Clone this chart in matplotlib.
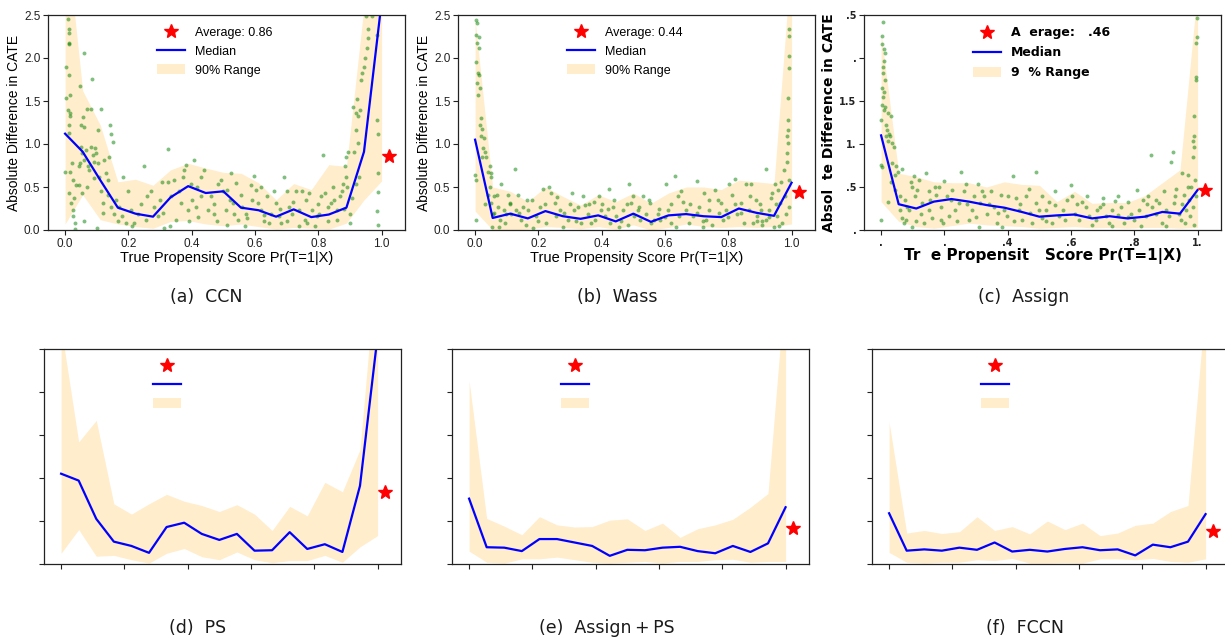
import numpy as np
import matplotlib.pyplot as plt
from matplotlib.patches import Patch

plt.rcParams['font.family'] = 'Liberation Sans'

# propensity score bins where median / 90% band are evaluated
bins = np.linspace(0, 1, 19)

# ---- (a) CCN ----
ccn_median = [1.12, 0.91, 0.58, 0.26, 0.19, 0.155, 0.38, 0.51, 0.43, 0.45,
              0.26, 0.23, 0.155, 0.24, 0.15, 0.18, 0.26, 0.91, 2.65]
ccn_low = [0.07, 0.41, 0.12, 0.07, 0.04, 0.02, 0.10, 0.11, 0.07, 0.05,
           0.07, 0.04, 0.01, 0.03, 0.02, 0.01, 0.08, 0.35, 0.57]
ccn_high = [3.55, 1.62, 1.22, 0.56, 0.59, 0.52, 0.70, 0.775, 0.72, 0.67,
            0.66, 0.55, 0.35, 0.54, 0.47, 0.76, 0.74, 2.6, 4.0]
ccn_avg = 0.86
ccn_points = [
    (0.008, 2.45), (0.011, 2.34), (0.011, 2.29), (0.011, 2.17), (0.013, 2.16), (0.002, 1.89),
    (0.013, 1.80), (0.002, 1.53), (0.015, 1.57), (0.008, 1.40), (0.015, 1.36), (0.015, 1.32),
    (0.011, 1.22), (0.013, 1.13), (0.0, 0.67), (0.017, 0.68), (0.011, 0.43), (0.019, 0.31),
    (0.025, 0.16), (0.032, 0.08), (0.032, 0.01), (0.025, 0.23), (0.021, 0.78), (0.025, 0.58),
    (0.029, 0.37), (0.036, 0.52), (0.044, 0.52), (0.052, 0.43), (0.059, 2.06), (0.048, 1.68),
    (0.046, 0.78), (0.05, 1.22), (0.059, 1.20), (0.05, 0.97), (0.059, 0.81), (0.044, 0.74),
    (0.052, 0.89), (0.067, 0.93), (0.069, 1.41), (0.082, 1.41), (0.084, 1.76), (0.056, 1.31),
    (0.072, 0.74), (0.077, 0.70), (0.082, 0.97), (0.087, 0.87), (0.093, 0.95), (0.098, 0.89),
    (0.103, 1.16), (0.103, 0.78), (0.09, 0.79), (0.108, 0.62), (0.115, 1.41), (0.124, 0.81),
    (0.129, 0.66), (0.135, 0.58), (0.141, 1.22), (0.145, 1.12), (0.15, 1.02), (0.114, 0.45),
    (0.119, 0.31), (0.1, 0.02), (0.135, 0.41), (0.145, 0.27), (0.156, 0.19), (0.171, 0.27),
    (0.183, 0.62), (0.179, 0.16), (0.166, 0.10), (0.193, 0.08), (0.208, 0.23), (0.219, 0.08),
    (0.229, 0.19), (0.25, 0.74), (0.256, 0.12), (0.271, 0.45), (0.282, 0.27), (0.292, 0.16),
    (0.305, 0.56), (0.313, 0.02), (0.324, 0.94), (0.326, 0.56), (0.334, 0.39), (0.345, 0.58),
    (0.35, 0.12), (0.366, 0.31), (0.371, 0.62), (0.376, 0.70), (0.382, 0.76), (0.387, 0.23),
    (0.398, 0.54), (0.406, 0.81), (0.413, 0.27), (0.418, 0.50), (0.429, 0.62), (0.44, 0.70),
    (0.45, 0.23), (0.46, 0.39), (0.471, 0.19), (0.482, 0.54), (0.492, 0.58), (0.508, 0.23),
    (0.513, 0.06), (0.524, 0.66), (0.529, 0.31), (0.513, 0.47), (0.534, 0.19), (0.545, 0.12),
    (0.555, 0.41), (0.560, 0.27), (0.571, 0.19), (0.576, 0.14), (0.587, 0.52), (0.597, 0.63),
    (0.602, 0.47), (0.608, 0.31), (0.618, 0.23), (0.629, 0.17), (0.639, 0.39), (0.644, 0.08),
    (0.65, 0.19), (0.665, 0.31), (0.675, 0.16), (0.682, 0.08), (0.692, 0.62), (0.7, 0.45),
    (0.708, 0.27), (0.718, 0.19), (0.729, 0.45), (0.739, 0.23), (0.75, 0.45), (0.758, 0.12),
    (0.765, 0.08), (0.771, 0.43), (0.780, 0.23), (0.797, 0.16), (0.802, 0.19), (0.81, 0.39),
    (0.816, 0.87), (0.822, 0.43), (0.830, 0.27), (0.839, 0.31), (0.848, 0.50), (0.858, 0.23),
    (0.869, 0.39), (0.874, 0.45), (0.885, 0.74), (0.887, 0.62), (0.895, 0.91), (0.9, 0.19),
    (0.905, 0.37), (0.913, 0.91), (0.91, 1.43), (0.918, 1.36), (0.923, 1.52), (0.925, 1.32),
    (0.932, 1.40), (0.936, 1.74), (0.939, 1.82), (0.945, 1.89), (0.947, 2.00), (0.953, 2.12),
    (0.956, 2.23), (0.958, 2.34), (0.952, 2.49), (0.97, 2.49), (0.986, 2.27), (0.984, 1.28),
    (0.988, 1.12), (0.988, 0.66), (0.988, 0.44), (0.984, 0.22), (0.988, 0.06), (0.924, 1.01),
    (0.92, 1.16), (0.889, 0.85), (0.879, 0.54), (0.918, 0.54), (0.928, 0.62), (0.9, 0.08),
    (0.16, 0.35), (0.2, 0.45), (0.21, 0.05), (0.24, 0.3), (0.26, 0.4), (0.3, 0.35),
    (0.31, 0.2), (0.33, 0.05), (0.36, 0.45), (0.39, 0.1), (0.4, 0.35), (0.42, 0.15),
    (0.43, 0.4), (0.47, 0.3), (0.48, 0.1), (0.5, 0.45), (0.52, 0.35), (0.54, 0.55),
    (0.57, 0.05), (0.59, 0.35), (0.62, 0.5), (0.63, 0.1), (0.66, 0.45), (0.68, 0.25),
    (0.7, 0.1), (0.72, 0.33), (0.74, 0.05), (0.76, 0.35), (0.79, 0.05), (0.8, 0.3),
    (0.83, 0.1), (0.85, 0.35), (0.86, 0.12), (0.88, 0.25), (0.89, 0.5), (0.07, 0.5),
    (0.12, 0.2), (0.14, 0.85), (0.06, 0.1), (0.09, 0.6),
]

# ---- (b) Wass ----
wass_median = [1.05, 0.14, 0.19, 0.135, 0.22, 0.16, 0.13, 0.17, 0.10, 0.19,
               0.095, 0.17, 0.185, 0.16, 0.15, 0.25, 0.20, 0.165, 0.55]
wass_low = [0.22, 0.0, 0.0, 0.01, 0.04, 0.03, 0.015, 0.04, 0.01, 0.06,
            0.0, 0.03, 0.07, 0.04, 0.03, 0.04, 0.03, 0.04, 0.07]
wass_high = [2.45, 0.50, 0.45, 0.33, 0.50, 0.39, 0.29, 0.41, 0.33, 0.43,
             0.31, 0.43, 0.50, 0.50, 0.47, 0.58, 0.56, 0.54, 3.2]
wass_avg = 0.44
wass_points = [
    (0.002, 2.44), (0.007, 2.41), (0.004, 2.27), (0.011, 2.25), (0.006, 2.17), (0.013, 2.12),
    (0.002, 1.95), (0.01, 1.82), (0.013, 1.80), (0.006, 1.71), (0.015, 1.65), (0.01, 1.57),
    (0.018, 1.30), (0.015, 1.22), (0.023, 1.18), (0.019, 1.09), (0.027, 1.07), (0.025, 0.95),
    (0.032, 0.91), (0.021, 0.85), (0.034, 0.85), (0.001, 0.64), (0.004, 0.58), (0.002, 0.12),
    (0.041, 0.68), (0.046, 0.74), (0.05, 0.62), (0.051, 0.66), (0.046, 0.50), (0.042, 0.41),
    (0.05, 0.31), (0.057, 0.19), (0.055, 0.04), (0.061, 0.39), (0.069, 0.41), (0.072, 0.27),
    (0.078, 0.12), (0.083, 0.54), (0.09, 0.23), (0.096, 0.08), (0.104, 0.41), (0.109, 0.31),
    (0.114, 0.19), (0.125, 0.71), (0.13, 0.23), (0.137, 0.41), (0.146, 0.12), (0.151, 0.27),
    (0.162, 0.06), (0.167, 0.23), (0.183, 0.02), (0.193, 0.16), (0.204, 0.27), (0.216, 0.48),
    (0.233, 0.50), (0.241, 0.43), (0.251, 0.31), (0.256, 0.16), (0.267, 0.23), (0.277, 0.04),
    (0.293, 0.12), (0.307, 0.43), (0.314, 0.23), (0.325, 0.27), (0.335, 0.08), (0.346, 0.29),
    (0.356, 0.19), (0.367, 0.08), (0.377, 0.33), (0.39, 0.40), (0.398, 0.23), (0.409, 0.16),
    (0.424, 0.48), (0.435, 0.27), (0.445, 0.16), (0.456, 0.04), (0.466, 0.23), (0.487, 0.54),
    (0.493, 0.31), (0.503, 0.16), (0.514, 0.23), (0.482, 0.06), (0.426, 0.08), (0.225, 0.08),
    (0.099, 0.19), (0.076, 0.04), (0.164, 0.35),
    (0.519, 0.27), (0.530, 0.39), (0.540, 0.19), (0.553, 0.31), (0.556, 0.08), (0.566, 0.12),
    (0.577, 0.19), (0.584, 0.12), (0.603, 0.54), (0.608, 0.23), (0.619, 0.08), (0.633, 0.63),
    (0.640, 0.39), (0.645, 0.16), (0.656, 0.33), (0.666, 0.23), (0.677, 0.08), (0.687, 0.16),
    (0.701, 0.57), (0.708, 0.27), (0.724, 0.43), (0.729, 0.12), (0.74, 0.23), (0.75, 0.06),
    (0.758, 0.47), (0.766, 0.35), (0.776, 0.31), (0.784, 0.12), (0.792, 0.23), (0.803, 0.53),
    (0.813, 0.41), (0.821, 0.59), (0.829, 0.19), (0.839, 0.31), (0.85, 0.08), (0.857, 0.54),
    (0.866, 0.23), (0.871, 0.53), (0.878, 0.08), (0.886, 0.35), (0.891, 0.16), (0.902, 0.23),
    (0.907, 0.06), (0.918, 0.71), (0.92, 0.12), (0.928, 0.23), (0.934, 0.37), (0.939, 0.43),
    (0.944, 0.04), (0.949, 0.54), (0.955, 0.16), (0.958, 0.47), (0.962, 0.31), (0.966, 0.56),
    (0.970, 0.08), (0.976, 0.70), (0.979, 0.39), (0.983, 0.19), (0.986, 0.79), (0.986, 0.89),
    (0.989, 1.01), (0.987, 1.09), (0.989, 1.16), (0.988, 1.28), (0.989, 1.53), (0.991, 1.88),
    (0.992, 2.02), (0.993, 2.26), (0.993, 2.34), (0.993, 0.58), (0.993, 0.27), (0.907, 0.10),
    (0.719, 0.04), (0.635, 0.04),
    (0.11, 0.3), (0.14, 0.2), (0.18, 0.35), (0.2, 0.1), (0.22, 0.3), (0.26, 0.38),
    (0.28, 0.2), (0.3, 0.3), (0.32, 0.1), (0.34, 0.4), (0.36, 0.3), (0.38, 0.12),
    (0.4, 0.3), (0.42, 0.25), (0.44, 0.35), (0.46, 0.1), (0.48, 0.3), (0.5, 0.4),
    (0.52, 0.12), (0.55, 0.35), (0.58, 0.25), (0.6, 0.15), (0.62, 0.3), (0.65, 0.45),
    (0.68, 0.3), (0.7, 0.2), (0.72, 0.1), (0.74, 0.35), (0.77, 0.2), (0.8, 0.15),
    (0.82, 0.3), (0.84, 0.2), (0.87, 0.4), (0.89, 0.1), (0.9, 0.3), (0.93, 0.15),
    (0.95, 0.3), (0.96, 0.05), (0.03, 0.3), (0.06, 0.2),
]

# ---- (c) Assign ----
assign_median = [1.10, 0.30, 0.25, 0.33, 0.36, 0.33, 0.29, 0.26, 0.21, 0.155,
                 0.17, 0.18, 0.135, 0.16, 0.135, 0.155, 0.21, 0.19, 0.465]
assign_low = [0.33, 0.10, 0.04, 0.02, 0.05, 0.08, 0.06, 0.05, 0.04, 0.02,
              0.03, 0.04, 0.025, 0.03, 0.02, 0.03, 0.03, 0.02, 0.03]
assign_high = [2.29, 0.66, 0.62, 0.56, 0.55, 0.55, 0.50, 0.56, 0.53, 0.52,
               0.33, 0.45, 0.31, 0.32, 0.32, 0.40, 0.55, 0.70, 2.8]
assign_avg = 0.46
assign_points = [
    (0.005, 2.42), (0.003, 2.26), (0.003, 2.16), (0.008, 2.11), (0.012, 2.06), (0.01, 1.96),
    (0.007, 1.90), (0.005, 1.82), (0.012, 1.74), (0.003, 1.65), (0.01, 1.61), (0.007, 1.55),
    (0.003, 1.45), (0.012, 1.43), (0.01, 1.40), (0.022, 1.36), (0.0, 1.28), (0.031, 1.32),
    (0.014, 1.22), (0.02, 1.16), (0.026, 1.12), (0.016, 1.09), (0.028, 1.09), (0.022, 1.03),
    (0.033, 1.01), (0.04, 0.97), (0.0, 0.76), (0.003, 0.73), (0.035, 0.78), (0.047, 0.74),
    (0.052, 0.68), (0.043, 0.64), (0.065, 0.71), (0.03, 0.56), (0.045, 0.47), (0.022, 0.33),
    (0.001, 0.12), (0.061, 0.23), (0.066, 0.14), (0.071, 0.08), (0.077, 0.35), (0.082, 0.27),
    (0.087, 0.23), (0.093, 0.56), (0.098, 0.50), (0.103, 0.63), (0.107, 0.39), (0.114, 0.47),
    (0.119, 0.58), (0.125, 0.19), (0.13, 0.31), (0.135, 0.08), (0.142, 0.66), (0.151, 0.23),
    (0.156, 0.35), (0.161, 0.14), (0.17, 0.50), (0.174, 0.41), (0.182, 0.50), (0.188, 0.27),
    (0.2, 0.57), (0.209, 0.39), (0.216, 0.16), (0.225, 0.47), (0.235, 0.23), (0.246, 0.31),
    (0.252, 0.67), (0.262, 0.45), (0.267, 0.54), (0.277, 0.12), (0.288, 0.23), (0.293, 0.39),
    (0.306, 0.54), (0.314, 0.31), (0.325, 0.39), (0.335, 0.19), (0.346, 0.45), (0.357, 0.27),
    (0.367, 0.08), (0.378, 0.41), (0.388, 0.23), (0.399, 0.16), (0.417, 0.63), (0.425, 0.37),
    (0.436, 0.23), (0.446, 0.12), (0.457, 0.39), (0.467, 0.48), (0.478, 0.08), (0.488, 0.67),
    (0.499, 0.23), (0.507, 0.14), (0.488, 0.31), (0.383, 0.04), (0.195, 0.08), (0.098, 0.04),
    (0.309, 0.04),
    (0.509, 0.39), (0.52, 0.23), (0.531, 0.33), (0.541, 0.08), (0.551, 0.29), (0.562, 0.16),
    (0.575, 0.23), (0.586, 0.35), (0.6, 0.52), (0.604, 0.39), (0.613, 0.19), (0.625, 0.12),
    (0.636, 0.33), (0.646, 0.27), (0.657, 0.16), (0.667, 0.06), (0.683, 0.23), (0.691, 0.27),
    (0.702, 0.37), (0.71, 0.16), (0.72, 0.08), (0.731, 0.23), (0.738, 0.34), (0.747, 0.17),
    (0.757, 0.27), (0.768, 0.08), (0.78, 0.32), (0.789, 0.19), (0.8, 0.12), (0.808, 0.46),
    (0.815, 0.23), (0.826, 0.35), (0.836, 0.16), (0.842, 0.39), (0.852, 0.87), (0.857, 0.27),
    (0.868, 0.19), (0.878, 0.31), (0.889, 0.08), (0.894, 0.45), (0.9, 0.23), (0.91, 0.16),
    (0.916, 0.79), (0.921, 0.91), (0.926, 0.31), (0.931, 0.48), (0.94, 0.19), (0.947, 0.12),
    (0.952, 0.66), (0.958, 0.41), (0.962, 0.23), (0.969, 0.64), (0.972, 0.35), (0.976, 0.16),
    (0.98, 0.50), (0.984, 0.27), (0.987, 0.85), (0.986, 1.03), (0.989, 0.97), (0.99, 1.09),
    (0.989, 1.32), (0.995, 1.74), (0.995, 1.78), (0.996, 2.17), (0.997, 2.25), (0.999, 2.46),
    (0.992, 0.58), (0.995, 0.39), (0.989, 0.06),
    (0.11, 0.1), (0.15, 0.45), (0.19, 0.12), (0.22, 0.35), (0.24, 0.1), (0.27, 0.3),
    (0.3, 0.15), (0.32, 0.45), (0.34, 0.3), (0.37, 0.2), (0.4, 0.4), (0.42, 0.1),
    (0.44, 0.3), (0.47, 0.2), (0.52, 0.1), (0.55, 0.45), (0.58, 0.12), (0.62, 0.3),
    (0.65, 0.4), (0.68, 0.12), (0.7, 0.3), (0.73, 0.05), (0.75, 0.4), (0.78, 0.15),
    (0.82, 0.05), (0.84, 0.3), (0.87, 0.35), (0.9, 0.05), (0.93, 0.4), (0.95, 0.3),
    (0.96, 0.08), (0.97, 0.5), (0.06, 0.4), (0.08, 0.12),
]

# ---- (d) PS ----
ps_median = [1.05, 0.97, 0.525, 0.26, 0.21, 0.13, 0.43, 0.48, 0.35, 0.28,
             0.35, 0.155, 0.16, 0.37, 0.175, 0.23, 0.14, 0.91, 2.65]
ps_low = [0.125, 0.40, 0.09, 0.10, 0.05, 0.01, 0.125, 0.18, 0.085, 0.05,
          0.14, 0.05, 0.015, 0.04, 0.04, 0.10, 0.02, 0.20, 0.33]
ps_high = [2.75, 1.42, 1.67, 0.70, 0.58, 0.70, 0.81, 0.73, 0.68, 0.61,
           0.69, 0.58, 0.39, 0.67, 0.56, 0.95, 0.84, 1.33, 3.65]
ps_avg = 0.84

# ---- (e) Assign+PS ----
aps_median = [0.76, 0.195, 0.19, 0.15, 0.29, 0.29, 0.25, 0.21, 0.095, 0.165,
              0.16, 0.19, 0.20, 0.15, 0.125, 0.21, 0.14, 0.24, 0.66]
aps_low = [0.15, 0.02, 0.01, 0.06, 0.06, 0.08, 0.05, 0.02, 0.01, 0.02,
           0.03, 0.01, 0.03, 0.03, 0.05, 0.055, 0.02, 0.03, 0.03]
aps_high = [2.13, 0.53, 0.44, 0.34, 0.55, 0.455, 0.43, 0.435, 0.51, 0.525,
            0.39, 0.475, 0.31, 0.41, 0.455, 0.52, 0.66, 0.82, 3.3]
aps_avg = 0.42

# ---- (f) FCCN ----
fccn_median = [0.59, 0.155, 0.17, 0.155, 0.19, 0.165, 0.25, 0.145, 0.165, 0.145,
               0.175, 0.195, 0.16, 0.17, 0.10, 0.225, 0.195, 0.26, 0.58]
fccn_low = [0.135, 0.02, 0.01, 0.02, 0.02, 0.05, 0.04, 0.065, 0.01, 0.01,
            0.015, 0.01, 0.06, 0.06, 0.05, 0.065, 0.03, 0.02, 0.06]
fccn_high = [1.65, 0.36, 0.39, 0.355, 0.375, 0.55, 0.39, 0.435, 0.35, 0.50,
             0.40, 0.475, 0.33, 0.36, 0.45, 0.475, 0.61, 0.68, 3.05]
fccn_avg = 0.38

captions = ["(a)  CCN", "(b)  Wass", "(c)  Assign",
            "(d)  PS", "(e)  Assign\u2009+\u2009PS", "(f)  FCCN"]

x_ticks = [0.0, 0.2, 0.4, 0.6, 0.8, 1.0]
y_ticks = [0.0, 0.5, 1.0, 1.5, 2.0, 2.5]


def draw_panel(ax, median, low, high, avg, points=None, legend_labels=("", "", ""),
               prop=None, legend_x=0.29):
    ax.fill_between(bins, low, high, color='orange', alpha=0.2, linewidth=0)
    if points is not None:
        pts = np.array(points)
        ax.scatter(pts[:, 0], pts[:, 1], s=8, color='green', alpha=0.5, linewidths=0)
    ax.plot(bins, median, color='b', linewidth=1.6)
    ax.plot([1.025], [avg], marker='*', color='r', markersize=10, linestyle='none')

    ax.set_xlim(-0.054, 1.074)
    ax.set_ylim(0, 2.5)
    ax.set_xticks(x_ticks)
    ax.set_yticks(y_ticks)
    ax.tick_params(direction='out', length=3.5, width=0.8, colors='#222222',
                   labelsize=8.5, pad=2)
    for sp in ax.spines.values():
        sp.set_color('#222222')
        sp.set_linewidth(0.9)

    # legend handles built to match the drawn artists
    h_star = plt.Line2D([], [], marker='*', color='r', markersize=10, linestyle='none')
    h_line = plt.Line2D([], [], color='b', linewidth=1.6)
    h_band = Patch(facecolor='orange', alpha=0.2, linewidth=0)
    ax.legend([h_star, h_line, h_band], list(legend_labels), loc='upper left',
              bbox_to_anchor=(legend_x, 0.97), frameon=False, borderaxespad=0,
              handlelength=2.3, handleheight=0.8, labelspacing=0.55,
              prop=prop or {'family': 'Liberation Sans', 'size': 9})


fig = plt.figure(figsize=(12.25, 6.41), dpi=100)

W, H = 1225, 641
aw, ah = 357, 215


def add_axes(left_px, top_px):
    return fig.add_axes([left_px / W, 1 - (top_px + ah) / H, aw / W, ah / H])


ax_a = add_axes(48, 15)
ax_b = add_axes(458, 15)
ax_c = add_axes(864, 15)
ax_d = add_axes(44, 349)
ax_e = add_axes(452, 349)
ax_f = add_axes(872, 349)

plain = {'family': 'Liberation Sans', 'size': 9}
bold = {'family': 'DejaVu Sans', 'weight': 'bold', 'size': 9}

draw_panel(ax_a, ccn_median, ccn_low, ccn_high, ccn_avg, ccn_points,
           ("Average: 0.86", "Median", "90% Range"), plain)
draw_panel(ax_b, wass_median, wass_low, wass_high, wass_avg, wass_points,
           ("Average: 0.44", "Median", "90% Range"), plain)
draw_panel(ax_c, assign_median, assign_low, assign_high, assign_avg, assign_points,
           ("A  erage:   .46", "Median", "9  % Range"), bold)
draw_panel(ax_d, ps_median, ps_low, ps_high, ps_avg)
draw_panel(ax_e, aps_median, aps_low, aps_high, aps_avg)
draw_panel(ax_f, fccn_median, fccn_low, fccn_high, fccn_avg)

for ax in (ax_a, ax_b):
    ax.set_xlabel("True Propensity Score Pr(T=1|X)", fontsize=10.5, labelpad=1)
    ax.set_ylabel("Absolute Difference in CATE", fontsize=10, labelpad=2)

# panel (c) is rendered in bold DejaVu with a few glyphs dropped
ax_c.set_xticklabels([".", ".", ".4", ".6", ".8", "1."], fontweight='bold',
                     family='DejaVu Sans', fontsize=7)
ax_c.set_yticklabels([".", ".5", "1.", "1.5", ".", ".5"], fontweight='bold',
                     family='DejaVu Sans', fontsize=7)
ax_c.set_xlabel("Tr  e Propensit   Score Pr(T=1|X)", fontsize=11,
                fontweight='bold', family='DejaVu Sans', labelpad=0)
ax_c.set_ylabel("Absol  te Difference in CATE", fontsize=10,
                fontweight='bold', family='DejaVu Sans', labelpad=2)

for ax in (ax_d, ax_e, ax_f):
    ax.set_xticklabels([])
    ax.set_yticklabels([])

# sub-figure captions
cap_pos = [(206, 297), (617, 297), (1024, 297), (198, 628), (607, 628), (1025, 628)]
for text, (cx, cy) in zip(captions, cap_pos):
    fig.text(cx / W, 1 - cy / H, text, ha='center', va='center',
             family='DejaVu Sans', fontsize=12.5, color='#1a1a1a')

fig.savefig('out.png', dpi=100)
